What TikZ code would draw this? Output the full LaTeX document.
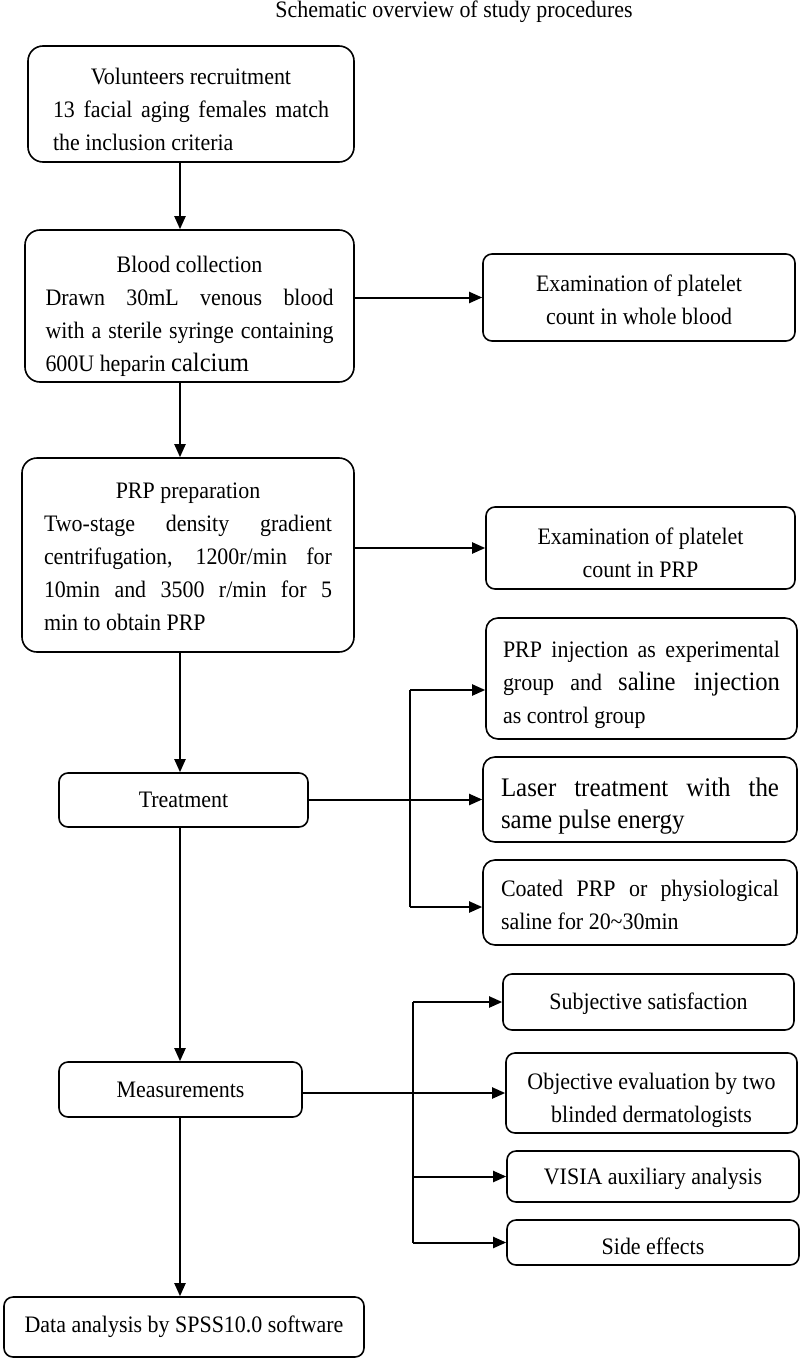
\documentclass[tikz,border=0pt]{standalone}
\usepackage{fontspec}
\setmainfont{Liberation Serif}[FakeStretch=0.93]
\usetikzlibrary{arrows.meta}
\begin{document}
\begin{tikzpicture}[x=1pt,y=-1pt,
  every node/.style={font=\fontsize{23.6}{33}\selectfont},
  bigbox/.style={draw, line width=1.6pt, rounded corners=15pt, inner sep=0pt, align=justify},
  smallbox/.style={draw, line width=1.6pt, rounded corners=9pt, inner sep=0pt, align=flush center},
  dn/.style={execute at begin node={\rule{0pt}{#1}}},
  arr/.style={line width=2pt, -{Triangle[length=13pt,width=11pt]}},
  ln/.style={line width=2pt}]
\useasboundingbox (0,0) rectangle (800,1359);
\node (title) at (454,12) {Schematic overview of study procedures};
% main column
\node[bigbox, minimum width=326pt, minimum height=116pt, text width=276pt, dn=28pt] (vol) at (191,104)
  {\hfil Volunteers recruitment\hfil\null\linebreak 13 facial aging females match\linebreak the inclusion criteria};
\node[bigbox, minimum width=329pt, minimum height=152pt, text width=288pt, dn=37pt] (blood) at (189.5,306)
  {\hfil Blood collection\hfil\null\linebreak Drawn 30mL venous blood\linebreak with a sterile syringe containing\linebreak 600U heparin {\fontsize{26.5}{33}\selectfont calcium}};
\node[bigbox, minimum width=332pt, minimum height=194pt, text width=288pt, dn=20pt] (prep) at (188,555)
  {\hfil PRP preparation\hfil\null\linebreak Two-stage density gradient\linebreak centrifugation, 1200r/min for\linebreak 10min and 3500 r/min for 5\linebreak min to obtain PRP};
\node[smallbox, minimum width=249pt, minimum height=54pt] (treat) at (183.5,800) {Treatment};
\node[smallbox, minimum width=243pt, minimum height=55pt] (meas) at (180.5,1089.5) {Measurements};
\node[smallbox, minimum width=360pt, minimum height=60pt] (data) at (184,1327) {Data analysis by SPSS10.0 software};
% right column
\node[smallbox, minimum width=312pt, minimum height=87pt, text width=300pt, dn=22pt] (exam1) at (639,297.5) {Examination of platelet\\count in whole blood};
\node[smallbox, minimum width=309pt, minimum height=82pt, text width=300pt, dn=27pt] (exam2) at (640.5,548) {Examination of platelet\\count in PRP};
\node[bigbox, rounded corners=12pt, minimum width=311pt, minimum height=121pt, text width=277pt, dn=30pt] (inj) at (641.5,678.5)
  {PRP injection as experimental\linebreak group and {\fontsize{26.5}{33}\selectfont saline injection}\linebreak as control group};
\node[bigbox, rounded corners=12pt, minimum width=314pt, minimum height=85pt, text width=278pt, font=\fontsize{26.8}{32}\selectfont, dn=32pt] (laser) at (640,799.5)
  {Laser treatment with the\linebreak same pulse energy};
\node[bigbox, rounded corners=12pt, minimum width=314pt, minimum height=85pt, text width=278pt, dn=22pt] (coated) at (640,902.5)
  {Coated PRP or physiological\linebreak saline for 20\textasciitilde 30min};
\node[smallbox, minimum width=291pt, minimum height=56pt, dn=20pt] (subj) at (648.5,1002) {Subjective satisfaction};
\node[smallbox, minimum width=291pt, minimum height=80pt, text width=280pt, dn=31pt] (obj) at (651.5,1093) {Objective evaluation by two\\blinded dermatologists};
\node[smallbox, minimum width=292pt, minimum height=51pt, dn=22pt] (visia) at (653,1176.5) {VISIA auxiliary analysis};
\node[smallbox, minimum width=292pt, minimum height=45pt, dn=24pt] (side) at (653,1242.5) {Side effects};
% spine and branch points
\coordinate (spine) at (180,0);
\coordinate (tb) at (410,0);
\coordinate (mb) at (413,0);
\coordinate (injy) at (0,690);
\coordinate (coaty) at (0,907);
\coordinate (measy) at (0,1093);
% vertical flow
\draw[arr] (vol.south -| spine) -- (blood.north -| spine);
\draw[arr] (blood.south -| spine) -- (prep.north -| spine);
\draw[arr] (prep.south -| spine) -- (treat.north -| spine);
\draw[arr] (treat.south -| spine) -- (meas.north -| spine);
\draw[arr] (meas.south -| spine) -- (data.north -| spine);
% side examinations
\draw[arr] (blood.east |- exam1.west) -- (exam1.west);
\draw[arr] (prep.east |- exam2.west) -- (exam2.west);
% treatment branches
\draw[arr] (treat.east |- laser.west) -- (laser.west);
\draw[ln] (tb |- injy) -- (tb |- coaty);
\draw[arr] (tb |- injy) -- (inj.west |- injy);
\draw[arr] (tb |- coaty) -- (coated.west |- coaty);
% measurement branches
\draw[arr] (meas.east |- measy) -- (obj.west |- measy);
\draw[ln] (mb |- subj.west) -- (mb |- side.west);
\draw[arr] (mb |- subj.west) -- (subj.west);
\draw[arr] (mb |- visia.west) -- (visia.west);
\draw[arr] (mb |- side.west) -- (side.west);
\end{tikzpicture}
\end{document}
